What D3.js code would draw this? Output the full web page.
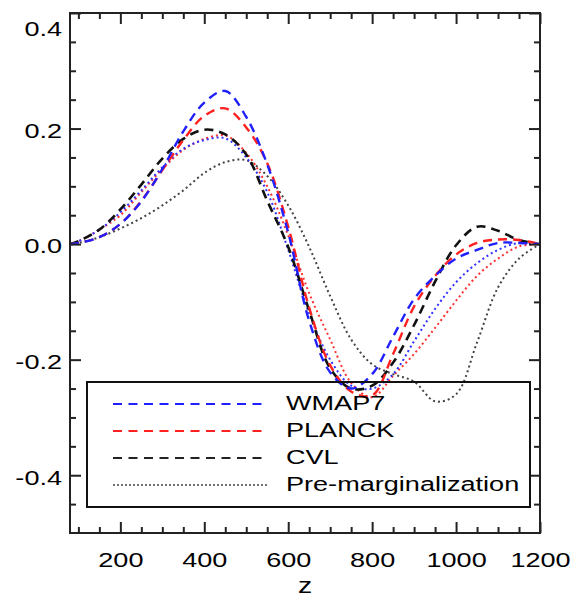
<!DOCTYPE html>
<html>
<head>
<meta charset="utf-8">
<script src="https://cdn.jsdelivr.net/npm/d3@7"></script>
<style>
  body { margin: 0; background: #fff; }
  svg { display: block; font-family: "Liberation Sans", Arial, sans-serif; }
</style>
</head>
<body>
<svg id="chart" width="572" height="599"></svg>
<script>
// redshift grid shared by all curves
let zGrid = [80, 100, 150, 200, 250, 300, 350, 400, 450, 500, 550, 600, 650, 700, 750, 800, 850, 900, 950, 1000, 1050, 1100, 1150, 1200]

// values
let wmapDashed = [0, 0.002, 0.012, 0.035, 0.074, 0.13, 0.195, 0.245, 0.265, 0.22, 0.138, 0.02, -0.133, -0.222, -0.25, -0.225, -0.16, -0.095, -0.055, -0.025, -0.01, 0.002, 0.002, 0]
let planckDashed = [0, 0.002, 0.012, 0.035, 0.075, 0.128, 0.18, 0.222, 0.235, 0.202, 0.14, 0.03, -0.11, -0.21, -0.255, -0.262, -0.19, -0.108, -0.055, -0.018, 0.002, 0.008, 0.007, 0]
let cvlDashed = [0, 0.005, 0.025, 0.06, 0.103, 0.148, 0.182, 0.198, 0.19, 0.155, 0.075, -0.005, -0.115, -0.215, -0.25, -0.245, -0.205, -0.14, -0.065, -0.002, 0.03, 0.023, 0.007, 0]
let wmapDotted = [0, 0.005, 0.025, 0.055, 0.093, 0.133, 0.165, 0.18, 0.183, 0.15, 0.09, -0.01, -0.12, -0.2, -0.245, -0.25, -0.225, -0.168, -0.112, -0.066, -0.033, -0.01, 0.002, 0]
let planckDotted = [0, 0.005, 0.025, 0.05, 0.09, 0.13, 0.163, 0.182, 0.188, 0.158, 0.1, 0.015, -0.085, -0.165, -0.24, -0.265, -0.228, -0.19, -0.145, -0.098, -0.055, -0.025, -0.004, 0]
let preMarg = [0, 0.002, 0.012, 0.027, 0.045, 0.067, 0.093, 0.123, 0.142, 0.145, 0.118, 0.067, -0.005, -0.09, -0.165, -0.208, -0.225, -0.238, -0.272, -0.26, -0.17, -0.075, -0.025, 0]

let seriesNames = ["WMAP7", "PLANCK", "CVL", "Pre-marginalization"]

let xMajor = [200, 400, 600, 800, 1000, 1200]
let yMajor = [-0.4, -0.2, 0.0, 0.2, 0.4]
let yLabels = ["-0.4", "-0.2", "0.0", "0.2", "0.4"]

let svg = d3.select("#chart")
let plotLeft = 70, plotRight = 540, plotTop = 13, plotBottom = 533
let stretch = 1.29  // text in the original is wide

let x = d3.scaleLinear().domain([80, 1200]).range([plotLeft, plotRight])
let y = d3.scaleLinear().domain([-0.5, 0.4]).range([plotBottom, plotTop])

// curves
let curves = [
    {v: preMarg, color: "#444", dash: "2,3", w: 2},
    {v: planckDotted, color: "#ff3030", dash: "2,3", w: 2},
    {v: wmapDotted, color: "#3030ff", dash: "2,3", w: 2},
    {v: cvlDashed, color: "#111", dash: "9,6", w: 2.6},
    {v: planckDashed, color: "#ff2020", dash: "9,6", w: 2.4},
    {v: wmapDashed, color: "#2020ff", dash: "9,6", w: 2.4}
]
let line = d3.line()
    .x((d, i) => x(zGrid[i]))
    .y(d => y(d))
    .curve(d3.curveCatmullRom)

svg.append("g").selectAll("path")
    .data(curves)
    .join("path")
    .attr("d", d => line(d.v))
    .attr("fill", "none")
    .attr("stroke", d => d.color)
    .attr("stroke-width", d => d.w)
    .attr("stroke-dasharray", d => d.dash)

// axes, ticks point inwards on all four sides
let xMinor = d3.range(100, 1201, 50).filter(d => xMajor.indexOf(d) < 0)
let yMinor = d3.range(-0.45, 0.4, 0.05).map(d => +d.toFixed(2)).filter(d => yMajor.indexOf(d) < 0)

function drawAxis(axisFn, scale, ticks, size, pos, labels) {
    let g = svg.append("g").attr("transform", pos)
    let a = axisFn(scale).tickValues(ticks).tickSizeInner(-size).tickSizeOuter(0)
    if (labels) a.tickFormat((d, i) => labels[i])
    else a.tickFormat("")
    g.call(a)
    g.select(".domain").remove()
    g.selectAll(".tick line").attr("stroke", "#222").attr("stroke-width", 2)
    return g
}

let gxb = drawAxis(d3.axisBottom, x, xMajor, 11, `translate(0,${plotBottom})`, xMajor.map(String))
gxb.selectAll(".tick text")
    .attr("font-size", 21).attr("fill", "#000")
    .attr("y", 19)
    .attr("transform", `scale(${stretch},1)`)
drawAxis(d3.axisBottom, x, xMinor, 6, `translate(0,${plotBottom})`)
drawAxis(d3.axisTop, x, xMajor, 11, `translate(0,${plotTop})`)
drawAxis(d3.axisTop, x, xMinor, 6, `translate(0,${plotTop})`)

let gyl = drawAxis(d3.axisLeft, y, yMajor, 11, `translate(${plotLeft},0)`, yLabels)
gyl.selectAll(".tick text")
    .attr("font-size", 21).attr("fill", "#000")
    .attr("x", -6.2)
    .attr("dy", d => d === 0.4 ? "1.05em" : "0.42em")
    .attr("transform", `scale(${stretch},1)`)
drawAxis(d3.axisLeft, y, yMinor, 6, `translate(${plotLeft},0)`)
drawAxis(d3.axisRight, y, yMajor, 11, `translate(${plotRight},0)`)
drawAxis(d3.axisRight, y, yMinor, 6, `translate(${plotRight},0)`)

// frame
svg.append("rect")
    .attr("x", plotLeft).attr("y", plotTop)
    .attr("width", plotRight - plotLeft).attr("height", plotBottom - plotTop)
    .attr("fill", "none").attr("stroke", "#222").attr("stroke-width", 2)

svg.append("text")
    .attr("transform", `translate(305,593) scale(${stretch},1)`)
    .attr("text-anchor", "middle")
    .attr("font-size", 22)
    .text("z")

// legend
let legendStyle = [
    {color: "#2020ff", dash: "9,6.5"},
    {color: "#ff2020", dash: "9,6.5"},
    {color: "#222", dash: "9,6.5"},
    {color: "#444", dash: "2,2"}
]
let legendY = [404, 431, 458, 485]
svg.append("rect")
    .attr("x", 87).attr("y", 382)
    .attr("width", 443).attr("height", 125)
    .attr("fill", "none").attr("stroke", "#111").attr("stroke-width", 2)

let lg = svg.append("g")
lg.selectAll("line")
    .data(seriesNames)
    .join("line")
    .attr("x1", 113).attr("x2", 268)
    .attr("y1", (d, i) => legendY[i]).attr("y2", (d, i) => legendY[i])
    .attr("stroke", (d, i) => legendStyle[i].color)
    .attr("stroke-width", (d, i) => i === 3 ? 1.6 : 2)
    .attr("stroke-dasharray", (d, i) => legendStyle[i].dash)
lg.selectAll("text")
    .data(seriesNames)
    .join("text")
    .attr("transform", (d, i) => `translate(286,${legendY[i] + 5.5}) scale(${stretch},1)`)
    .attr("font-size", 21)
    .text(d => d)
</script>
</body>
</html>
